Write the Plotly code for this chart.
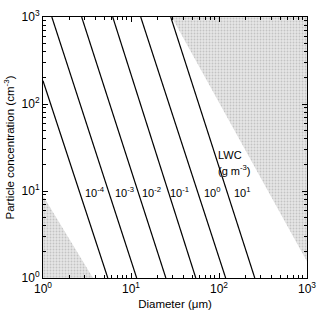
import math
import plotly.graph_objects as go

# LWC isolines: (diameter um, concentration cm^-3) endpoints
lwc_labels = ["10<sup>-4</sup>", "10<sup>-3</sup>", "10<sup>-2</sup>",
              "10<sup>-1</sup>", "10<sup>0</sup>", "10<sup>1</sup>"]
line_x0 = [5.45, 11.6, 24.9, 54.5, 119, 255]
line_y0 = [1, 1, 1, 1, 1, 1]
line_x1 = [1, 1.26, 2.75, 6.2, 12.9, 28.3]
line_y1 = [185, 1000, 1000, 1000, 1000, 1000]
label_x = [2.82, 6.2, 12.6, 26.2, 63.4, 139]
label_y = [9.75] * 6
unit_x = [92.7, 93.5]
unit_y = [25.8, 17.5]
unit_text = ["LWC", "(g m<sup>-3</sup>)"]

# shaded regions
upper_x = [29, 1000, 1000, 29]
upper_y = [1000, 1000, 1.55, 1000]
lower_x = [1, 1, 3.7, 1]
lower_y = [1, 8.8, 1, 1]

tick_vals = [1, 10, 100, 1000]
tick_text = ["10<sup>0</sup>", "10<sup>1</sup>", "10<sup>2</sup>", "10<sup>3</sup>"]
minor_vals = [m * 10 ** d for d in range(3) for m in range(2, 10)]

fig = go.Figure()
pat = dict(shape=".", bgcolor="#e6e6e6", fgcolor="#a0a0a0", size=3, solidity=0.3)
for xs, ys in [(upper_x, upper_y), (lower_x, lower_y)]:
    fig.add_trace(go.Scatter(x=xs, y=ys, mode="lines", fill="toself",
                             fillcolor="#d6d6d6", fillpattern=pat,
                             line=dict(width=0), hoverinfo="skip", showlegend=False))
for i in range(len(lwc_labels)):
    fig.add_trace(go.Scatter(x=[line_x0[i], line_x1[i]], y=[line_y0[i], line_y1[i]],
                             mode="lines", line=dict(color="black", width=1.2),
                             showlegend=False))
    fig.add_annotation(x=math.log10(label_x[i]), y=math.log10(label_y[i]),
                       text=lwc_labels[i], xref="x", yref="y", showarrow=False,
                       xanchor="left", yanchor="middle",
                       font=dict(size=11, color="black"))
for i in range(len(unit_text)):
    fig.add_annotation(x=math.log10(unit_x[i]), y=math.log10(unit_y[i]),
                       text=unit_text[i], xref="x", yref="y", showarrow=False,
                       xanchor="left", yanchor="middle",
                       font=dict(size=11, color="black"))

axis_common = dict(type="log", showgrid=False, zeroline=False, mirror="allticks",
                   showline=True, linecolor="black", linewidth=1,
                   ticks="inside", ticklen=5, tickcolor="black",
                   tickvals=tick_vals, ticktext=tick_text,
                   ticklabeloverflow="allow",
                   tickfont=dict(size=12, color="black"))
minor_common = dict(type="log", showgrid=False, zeroline=False, mirror="allticks",
                    showline=False, ticks="inside", ticklen=3, tickcolor="black",
                    tickvals=minor_vals, showticklabels=False, range=[0, 3])
fig.update_layout(
    xaxis=dict(range=[0, 3], title=dict(text="Diameter (μm)",
                                        font=dict(size=11.5, color="black"), standoff=4),
               **axis_common),
    yaxis=dict(range=[0, 3], title=dict(text="Particle concentration (cm<sup>-3</sup>)",
                                        font=dict(size=11.5, color="black"), standoff=4),
               **axis_common),
    xaxis2=dict(overlaying="x", anchor="y", side="bottom", **minor_common),
    yaxis2=dict(overlaying="y", anchor="x", side="left", **minor_common),
)
fig.add_trace(go.Scatter(x=[1], y=[1], xaxis="x2", yaxis="y2", mode="markers",
                         marker=dict(opacity=0), showlegend=False, hoverinfo="skip"))
fig.update_layout(width=324, height=316, margin=dict(l=43, r=8, t=10, b=36),
                  plot_bgcolor="white", paper_bgcolor="white",
                  font=dict(family="Liberation Sans, Arial, sans-serif", color="black"))
fig.write_html("out.html")
